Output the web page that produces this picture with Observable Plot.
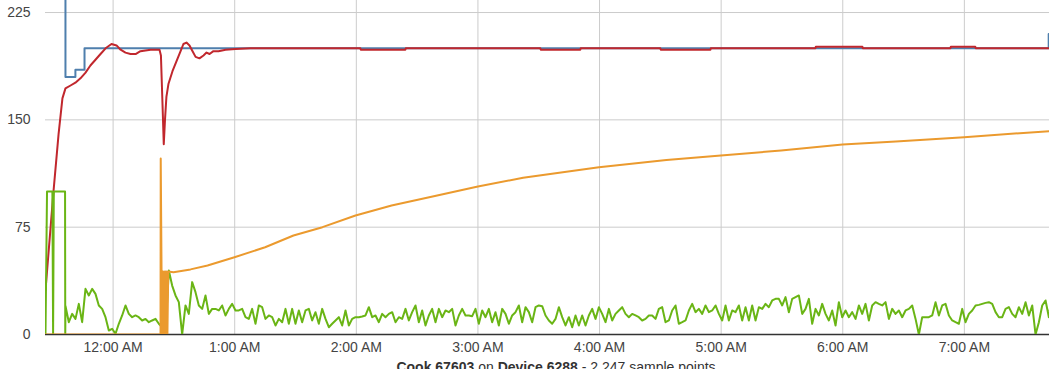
<!DOCTYPE html>
<html><head><meta charset="utf-8">
<script src="https://cdn.jsdelivr.net/npm/d3@7"></script>
<script src="https://cdn.jsdelivr.net/npm/@observablehq/plot@0.6"></script>
<style>
body{margin:0;background:#fff;font-family:"Liberation Sans",Arial,sans-serif;}
#caption{width:1049px;box-sizing:border-box;padding-left:63px;text-align:center;font-size:14px;color:#333;line-height:18px;}
</style></head><body>
<div id="chart"></div>
<div id="caption"><b>Cook 67603</b> on <b>Device 6288</b> - 2,247 sample points</div>
<script>
// times are minutes relative to midnight
const domainMinutes = [-33.35, 462.0];
const hourTicks = [0, 1, 2, 3, 4, 5, 6, 7];
const yTicks = [0, 75, 150, 225];

const blueMinutes = [-33.35, -23.5, -18.6, -14.1, 461.6, 462.0];
const blueValues  = [250, 180, 185, 200, 210, 210];

const redMinutes = [-33.35,-29.4,-26.9,-25.0,-23.5,-21.0,-18.6,-16.1,-13.6,-11.2,-8.7,-6.2,-3.7,-0.8,1.7,3.7,6.1,8.6,11.1,13.5,16.0,18.5,20.9,22.9,23.6,24.4,25.0,25.6,26.3,27.3,29.3,31.3,33.3,34.7,36.2,37.7,39.2,40.7,42.6,44.6,46.1,47.6,49.5,52.0,55.5,60.4,67.8,122.0,122.2,144.2,144.4,210.8,211.0,230.5,230.7,270.0,270.2,294.7,294.9,346.5,346.7,369.7,369.9,413.1,413.3,425.4,425.6,462.0];
const redValues = [31,100,140,165,172,174,176,179,183,188,192,196,200,203,202,199,197,196,196,198,198.5,199,199,199,195,160,133,150,166,175,184,191,198,203,204,202,198,194,193,195,197,196,198,198,199,199.5,200,200,199,199,200,200,199,199,200,200,199,199,200,200,201,201,200,200,201,201,200,200];

const orangeMinutes = [-33.35,23.4,23.5,23.9,24.2,24.5,24.8,25.2,25.5,25.9,26.2,26.5,26.8,27.2,29.8,38.2,46.6,59.9,75.0,89.0,103.3,119.6,137.4,159.9,180.0,202.3,239.7,273.0,299.9,329.6,359.9,386.2,419.9,462.0];
const orangeValues  = [0,0,123,45,0,44,0,44,0,44,0,44,0,44,43.5,45.5,48.2,54,61,69.2,75,83.2,90.1,97.1,103.4,109.5,116.9,122,125.1,128.6,132.8,134.9,137.9,142.1];

const greenBlockMinutes = [-33.35,-32.6,-29.95,-29.6,-29.25,-23.7,-23.6];
const greenBlockValues  = [0,100,100,0,100,100,0];
const greenNoiseStart = -23.49, greenNoiseStep = 1.6447;
const greenNoiseValues = [
20,8.6,14.4,10.9,21.4,8.6,31.9,27.3,31.9,28.4,
20.3,17.9,12.1,2.8,4.0,0.5,7.5,13.3,20.3,14.4,
12.1,13.3,12.1,9.8,10.9,8.6,9.8,10.9,7.5,5.1,
2,44.7,34.2,27.3,22.6,0,20.3,14.4,36.6,29.6,
20.3,17.9,27.3,14.4,17.9,17.9,16.8,20.3,13.3,17.9,
21.4,16.8,16.8,17.9,12.1,10.9,
17.9,7.5,20.3,19.1,10.9,13.3,12.1,6.3,10.9,8.6,
17.9,7.5,17.9,7.5,16.8,8.6,16.8,17.9,9.8,15.6,
7.5,17.9,10.9,5.1,7.5,9.8,12.1,6.3,16.8,6.3,
10.9,12.1,12.1,12.6,13.3,19.1,12.1,13.3,8.6,14.4,
12.1,14.4,15.6,8.6,12.1,10.9,17.9,9.8,15.6,20.3,
8.6,16.8,6.3,13.3,17.9,8.6,17.9,12.1,16.8,15.6,
17.9,6.3,13.3,17.9,13.3,13.3,12.8,17.9,7.5,16.8,
12.1,17.9,8.6,15.6,6.3,17.9,14.4,7.5,13.3,15.6,
20.3,8.6,19.1,15.6,8.6,19.1,20.3,19.8,13.3,9.8,
7.5,10.9,19.1,12.1,6.3,12.1,5.1,13.3,6.3,13.3,
6.3,13.3,17.9,10.9,19.1,14.4,8.6,17.9,9.8,14.4,
16.8,19.1,14.4,12.1,14.4,13.3,12.1,9.8,10.9,13.3,
13.3,10.9,17.9,19.1,8.6,9.8,16.8,20.3,7.5,8.6,
9.8,16.8,21.4,15.6,17.9,14.4,20.3,15.6,16.8,20.3,
14.4,9.8,20.3,9.8,16.8,15.6,20.3,9.8,19.1,9.8,
20.3,9.8,19.1,17.9,21.4,19.1,23.8,24.9,24.9,20.3,
26.1,15.6,24.9,26.1,27.3,14.4,17.9,24.9,7.5,17.9,
13.3,21.4,14.4,9.8,16.8,6.3,22.6,12.1,16.8,12.1,
15.6,10.9,20.3,14.4,21.4,9.8,20.3,22.6,21.4,20.3,
22.6,10.9,17.9,14.4,16.8,12.1,16.8,17.9,20.3,10.9,
0,12.1,12.1,12.1,13.3,22.6,13.3,20.3,21.4,13.3,
9.8,8.6,7.5,17.9,8.6,14.4,16.8,20.3,20.7,21.4,
22.1,22.6,21.4,15.6,12.1,12.1,17.9,19.1,14.4,12.1,
19.1,14.4,22.6,13.3,20.3,0,8.6,20.3,23.8,12.1,
30];

const base = Date.UTC(2017, 0, 2, 0, 0, 0);
const T = m => new Date(base + m * 60000);
const series = (ms, vs) => ms.map((m, i) => ({t: T(m), v: vs[i]}));

const blue = series(blueMinutes, blueValues);
const red = series(redMinutes, redValues);
const orange = series(orangeMinutes, orangeValues);
const green = series(greenBlockMinutes, greenBlockValues)
  .concat(greenNoiseValues.map((v, i) => ({t: T(greenNoiseStart + i * greenNoiseStep), v})));

const xTicks = hourTicks.map(h => T(h * 60));

const chart = Plot.plot({
  width: 1049, height: 358,
  marginLeft: 45, marginRight: 0, marginTop: 0, marginBottom: 24,
  style: {fontSize: "14px", fontFamily: "'Liberation Sans', Arial, sans-serif", color: "#444", background: "#fff"},
  x: {type: "utc", domain: domainMinutes.map(T), ticks: xTicks, tickFormat: d3.utcFormat("%-I:%M %p"), tickSize: 0, tickPadding: 8, label: null},
  y: {domain: [0, 233.4], ticks: yTicks, tickSize: 0, tickPadding: 15, label: null},
  marks: [
    Plot.ruleX(xTicks, {stroke: "#cccccc", strokeWidth: 1}),
    Plot.ruleY(yTicks.filter(d => d > 0), {stroke: "#cccccc", strokeWidth: 1}),
    Plot.ruleY([0], {stroke: "#333", strokeWidth: 1.5}),
    Plot.line(blue, {x: "t", y: "v", stroke: "#4f7fad", strokeWidth: 2, curve: "step-after", clip: true}),
    Plot.line(red, {x: "t", y: "v", stroke: "#c1272d", strokeWidth: 2, clip: true}),
    Plot.line(green, {x: "t", y: "v", stroke: "#6ab515", strokeWidth: 2, clip: true}),
    Plot.line(orange, {x: "t", y: "v", stroke: "#eb9a2e", strokeWidth: 2, clip: true})
  ]
});
document.getElementById("chart").appendChild(chart);
</script>
</body></html>
